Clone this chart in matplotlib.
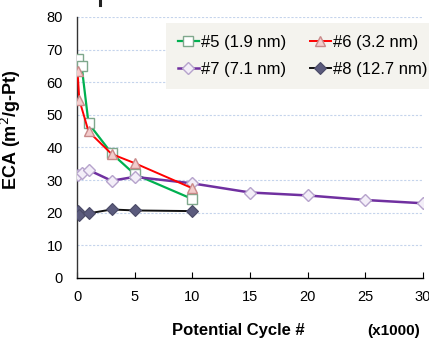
import matplotlib
matplotlib.use("Agg")
import matplotlib.pyplot as plt
from matplotlib.lines import Line2D

plt.rcParams['font.family'] = ['Liberation Sans', 'DejaVu Sans']

# Potential cycles (x1000) and ECA values (m2/g-Pt) for each sample
cycles_5 = [0.1, 0.4, 1, 3, 5, 10]
eca_5 = [67.2, 65.0, 47.4, 38.2, 31.8, 24.2]

cycles_6 = [0.05, 0.2, 1, 3, 5, 10]
eca_6 = [63.3, 54.6, 44.9, 38.0, 35.2, 27.5]

cycles_7 = [0.05, 0.4, 1, 3, 5, 10, 15, 20, 25, 30]
eca_7 = [31.6, 32.3, 33.1, 29.8, 31.0, 29.0, 26.2, 25.3, 23.9, 22.9]

cycles_8 = [0.1, 0.2, 1, 3, 5, 10]
eca_8 = [20.4, 19.3, 19.8, 21.0, 20.7, 20.5]

labels = ['#5 (1.9 nm)', '#6 (3.2 nm)', '#7 (7.1 nm)', '#8 (12.7 nm)']

x_ticks = [0, 5, 10, 15, 20, 25, 30]
y_ticks = [0, 10, 20, 30, 40, 50, 60, 70, 80]

fig = plt.figure(figsize=(4.29, 3.41), dpi=100)
ax = fig.add_axes([0.1795, 0.1848, 0.8065, 0.7654])

h5, = ax.plot(cycles_5, eca_5, color='#00b050', lw=1.6, marker='s', ms=6.5,
              mfc='white', mec='#7fa88c', mew=1.0, label=labels[0], zorder=3)
h6, = ax.plot(cycles_6, eca_6, color='#ff0000', lw=1.4, marker='^', ms=7.5,
              mfc='#f3cccc', mec='#c98a8a', mew=1.0, label=labels[1], zorder=4)
h7, = ax.plot(cycles_7, eca_7, color='#7030a0', lw=1.8, marker='D', ms=6,
              mfc='#f3eef8', mec='#b6a3cc', mew=1.0, label=labels[2], zorder=3)
h8, = ax.plot(cycles_8, eca_8, color='#111111', lw=1.4, marker='D', ms=6,
              mfc='#5b5b7d', mec='#4a4a66', mew=0.8, label=labels[3], zorder=3)

ax.set_xlim(0, 30)
ax.set_ylim(0, 80)
ax.set_xticks(x_ticks)
ax.set_yticks(y_ticks)

for y in y_ticks[1:]:
    ax.axhline(y, color='#c5d4ec', lw=0.8, ls=(0, (2, 1.5)), zorder=1)

for side in ('top', 'right'):
    ax.spines[side].set_visible(False)
ax.spines['left'].set_color('#333333')
ax.spines['bottom'].set_color('#000000')
ax.spines['left'].set_linewidth(1.0)
ax.spines['bottom'].set_linewidth(1.0)

ax.tick_params(axis='x', direction='in', length=4, width=0.8, labelsize=10.5, pad=9)
ax.tick_params(axis='y', length=0, labelsize=10.5, pad=10)

ax.set_ylabel('ECA (m$^2$/g-Pt)', fontsize=13, fontweight='bold')
ax.yaxis.set_label_coords(-0.155, 0.57)

fig.text(0.555, 0.018, 'Potential Cycle #', fontsize=12, fontweight='bold',
         ha='center', va='baseline')
fig.text(0.918, 0.018, '(x1000)', fontsize=11, fontweight='bold',
         ha='center', va='baseline')

# two columns filled column-wise: #5/#7 on the left, #6/#8 on the right
leg = ax.legend([h5, h7, h6, h8], [labels[0], labels[2], labels[1], labels[3]],
                loc='upper left', bbox_to_anchor=(0.257, 0.977), ncol=2,
                borderaxespad=0, fontsize=12, frameon=True, numpoints=1,
                handlelength=1.3, handletextpad=0.1, columnspacing=1.4,
                labelspacing=0.75, borderpad=0.7, fancybox=False)
leg.get_frame().set_facecolor('#f4f3ee')
leg.get_frame().set_edgecolor('none')
leg.get_frame().set_alpha(1)

fig.add_artist(Line2D([100 / 429, 100 / 429], [1.0, 0.984], color='#222222', lw=2.2))

fig.savefig('out.png', dpi=100)
